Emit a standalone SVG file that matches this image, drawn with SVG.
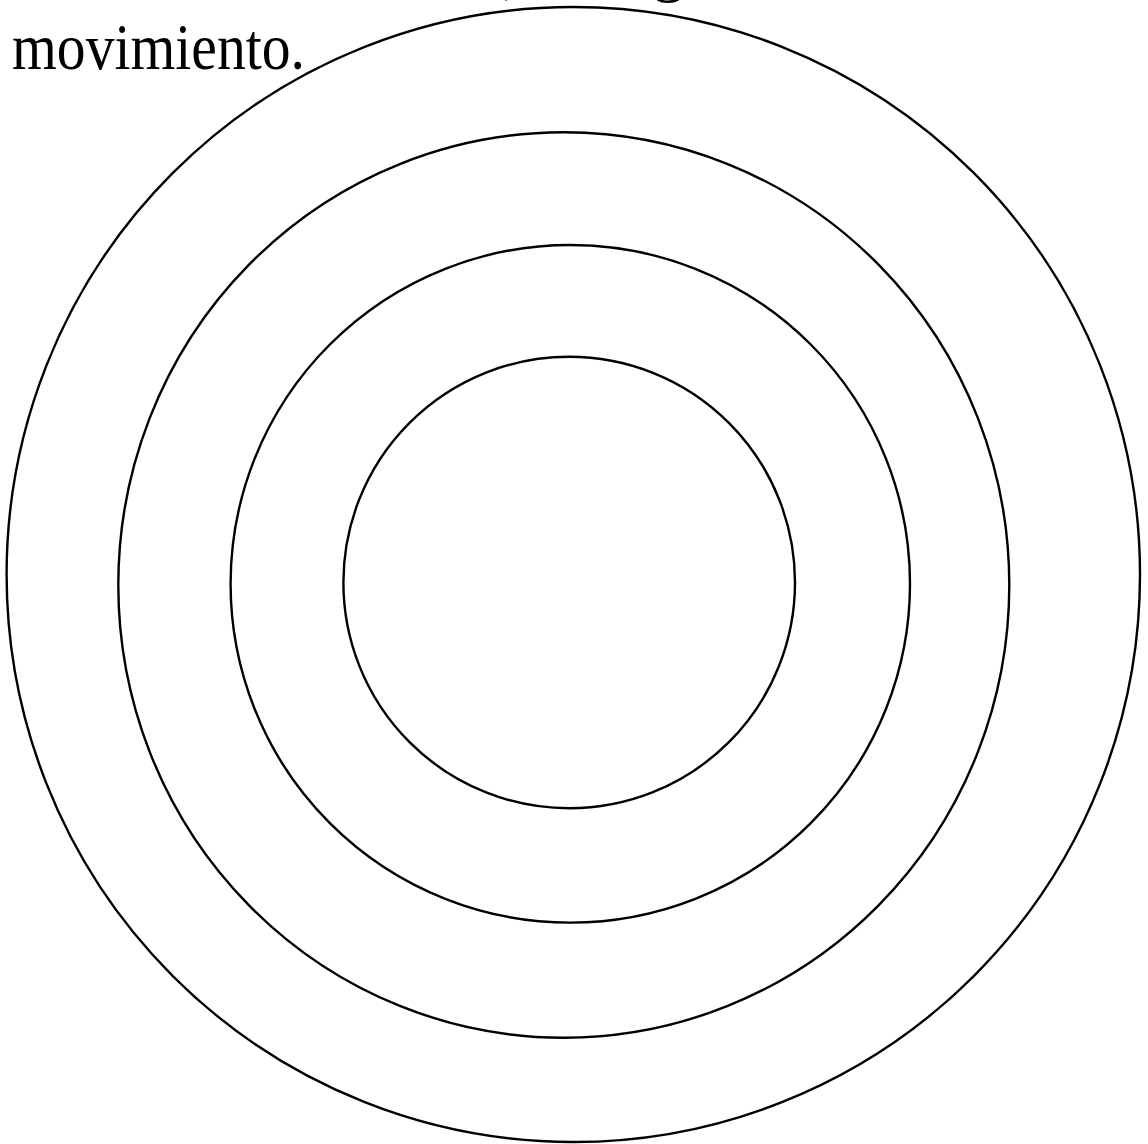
<svg xmlns="http://www.w3.org/2000/svg" width="1148" height="1144" viewBox="0 0 1148 1144">
<style>
.ring{fill:none;stroke:#000;stroke-width:2.4}
.t{font-family:"Liberation Serif","Times New Roman",serif;font-size:66px;fill:#000}
</style>
<rect width="1148" height="1144" fill="#fff"/>
<g id="text">
<text class="t" x="503" y="-9">,</text>
<text class="t" x="652" y="-11">g</text>
<text class="t" x="12" y="69" textLength="293" lengthAdjust="spacingAndGlyphs">movimiento.</text>
</g>
<g id="rings">
<ellipse id="ring1" class="ring" cx="573.3" cy="574.5" rx="566.7" ry="567.5"/>
<ellipse id="ring2" class="ring" cx="563.8" cy="585" rx="445.5" ry="452.7"/>
<ellipse id="ring3" class="ring" cx="570.3" cy="583.8" rx="339.7" ry="338.8"/>
<ellipse id="ring4" class="ring" cx="569.2" cy="582.5" rx="225.8" ry="225.8"/>
</g>
</svg>
